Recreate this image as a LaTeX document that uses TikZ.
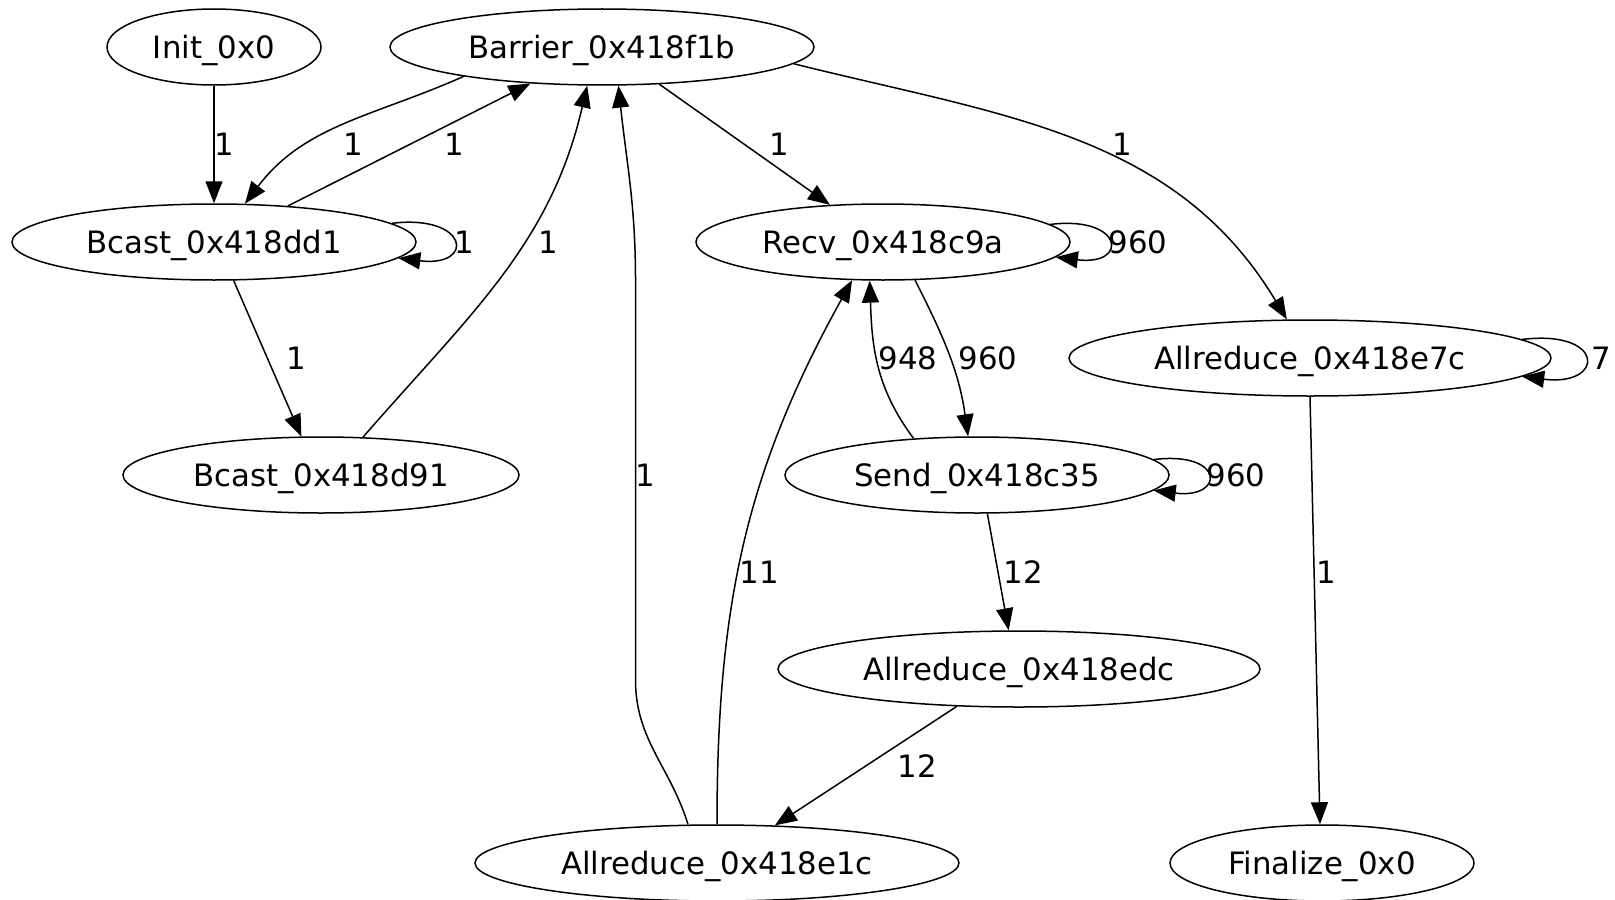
\documentclass[tikz,border=0pt]{standalone}
\usepackage{fontspec}
\setmainfont{DejaVu Sans}
\usetikzlibrary{shapes.geometric,arrows.meta}
\begin{document}
\begin{tikzpicture}[x=0.5pt,y=-0.5pt,
  every node/.style={font=\fontsize{15.4}{18}\selectfont},
  st/.style={draw, ellipse, inner sep=0pt, line width=0.75pt, minimum height=38pt, text depth=0pt},
  ed/.style={-{Triangle[length=11pt,width=8.5pt]}, line width=0.75pt},
  lb/.style={inner sep=0pt}]
\useasboundingbox (0,0) rectangle (1615,899);
% nodes
\node[st, minimum width=107pt] (init) at (214,47) {Init\_0x0};
\node[st, minimum width=212pt] (barrier) at (602,47) {Barrier\_0x418f1b};
\node[st, minimum width=202pt] (bdd1) at (214,242) {Bcast\_0x418dd1};
\node[st, minimum width=187pt] (recv) at (883,242) {Recv\_0x418c9a};
\node[st, minimum width=241pt] (ae7c) at (1310,358) {Allreduce\_0x418e7c};
\node[st, minimum width=198pt] (bd91) at (321,475) {Bcast\_0x418d91};
\node[st, minimum width=192pt] (send) at (977,475) {Send\_0x418c35};
\node[st, minimum width=241pt] (aedc) at (1019,669) {Allreduce\_0x418edc};
\node[st, minimum width=242pt] (ae1c) at (717,863) {Allreduce\_0x418e1c};
\node[st, minimum width=152pt] (fin) at (1322,863) {Finalize\_0x0};
% edges
\draw[ed] (init.-90) -- (bdd1.90);
\draw[ed] (barrier.-168) to[out=204,in=53] (bdd1.51);
\draw[ed] (bdd1.26) -- (barrier.-153.6);
\draw[ed] (bdd1.6) to[out=7,in=-7,distance=39pt] (bdd1.-5);
\draw[ed] (bdd1.-63) -- (bd91.117);
\draw[ed] (bd91.42) to[out=49,in=-103] (barrier.-111.5);
\draw[ed] (ae1c.127) to[out=107,in=-90] (635.5,680) -- (635.5,280) to[out=90,in=-84] (barrier.-67);
\draw[ed] (barrier.-33.7) -- (recv.145);
\draw[ed] (barrier.-5.9) to[out=-14,in=121] (ae7c.121);
\draw[ed] (recv.6) to[out=7,in=-7,distance=37pt] (recv.-5);
\draw[ed] (ae7c.5) to[out=7,in=-7,distance=42pt] (ae7c.-5);
\draw[ed] (recv.-50) to[out=-63,in=98] (send.103);
\draw[ed] (send.150) to[out=127,in=-88] (recv.-109);
\draw[ed] (ae1c.90) to[out=90,in=-119] (recv.-129);
\draw[ed] (send.5) to[out=7,in=-7,distance=36pt] (send.-5);
\draw[ed] (send.-75) -- (aedc.105);
\draw[ed] (aedc.-149) -- (ae1c.33);
\draw[ed] (ae7c.-90) -- (fin.93);
% labels
\node[lb] (l1) at (224,144) {1};
\node[lb] (l2) at (353,144) {1};
\node[lb] (l3) at (454,144) {1};
\node[lb] (l4) at (464,242) {1};
\node[lb] (l5) at (296,358) {1};
\node[lb] (l6) at (548,242) {1};
\node[lb] (l7) at (645,475) {1};
\node[lb] (l8) at (779,144) {1};
\node[lb] (l9) at (1122,144) {1};
\node[lb] (l10) at (1138,242) {960};
\node[lb] (l11) at (1601,358) {7};
\node[lb] (l12) at (988,358) {960};
\node[lb] (l13) at (908,358) {948};
\node[lb] (l14) at (759,572) {11};
\node[lb] (l15) at (1236,475) {960};
\node[lb] (l16) at (1023,572) {12};
\node[lb] (l17) at (917,766) {12};
\node[lb] (l18) at (1326,572) {1};
\end{tikzpicture}
\end{document}
